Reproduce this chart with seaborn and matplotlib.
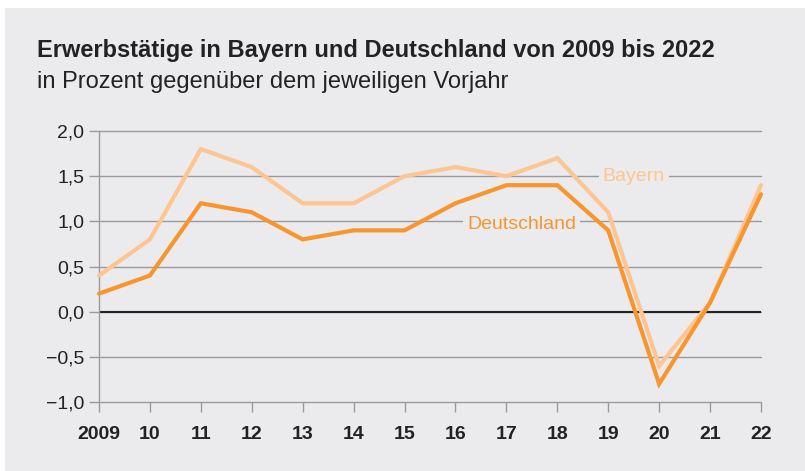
import numpy as np
import pandas as pd
import matplotlib
matplotlib.use("Agg")
import matplotlib.pyplot as plt
import seaborn as sns

# Werte
years = [2009, 2010, 2011, 2012, 2013, 2014, 2015, 2016, 2017, 2018, 2019, 2020, 2021, 2022]
bayern = [0.4, 0.8, 1.8, 1.6, 1.2, 1.2, 1.5, 1.6, 1.5, 1.7, 1.1, -0.6, 0.1, 1.4]
deutschland = [0.2, 0.4, 1.2, 1.1, 0.8, 0.9, 0.9, 1.2, 1.4, 1.4, 0.9, -0.8, 0.1, 1.3]
year_labels = ["2009", "10", "11", "12", "13", "14", "15", "16", "17", "18", "19", "20", "21", "22"]
y_ticks = [-1.0, -0.5, 0.0, 0.5, 1.0, 1.5, 2.0]
y_labels = ["\u22121,0", "\u22120,5", "0,0", "0,5", "1,0", "1,5", "2,0"]

bg = "#ebebed"
c_de = "#f7962e"
c_by = "#fdc591"

sns.set_theme(style="white")
plt.rcParams["font.family"] = ["Liberation Sans", "DejaVu Sans"]

df = pd.DataFrame({
    "Jahr": years * 2,
    "Wert": bayern + deutschland,
    "Region": ["Bayern"] * len(years) + ["Deutschland"] * len(years),
})

fig = plt.figure(figsize=(8.05, 4.71), dpi=100, facecolor="white")
# grauer Hintergrund mit weissem Rand oben/links
bg_rect = plt.Rectangle((5 / 805, 0), 1, 1 - 8 / 471, transform=fig.transFigure,
                        facecolor=bg, edgecolor="none", zorder=-10)
fig.add_artist(bg_rect)
ax = fig.add_axes([99 / 805, 1 - 402 / 471, 662 / 805, 271 / 471])
ax.set_zorder(1)
ax.set_facecolor(bg)

# Gitterlinien
for yv in y_ticks:
    ax.axhline(yv, color="#9a9a9c", lw=1.0, zorder=1, clip_on=False)
ax.axhline(0, color="#222222", lw=1.5, zorder=2)

sns.lineplot(data=df, x="Jahr", y="Wert", hue="Region",
             palette={"Bayern": c_by, "Deutschland": c_de},
             linewidth=3.0, legend=False, ax=ax, zorder=3)
for line in ax.get_lines()[-2:]:
    line.set_solid_joinstyle("miter")
    line.set_clip_on(False)

ax.set_xlim(2009, 2022)
ax.set_ylim(-1.0, 2.0)
ax.set_xticks(years)
ax.set_xticklabels(year_labels, fontsize=14, fontweight="bold", color="#222222")
ax.set_yticks(y_ticks)
ax.set_yticklabels(y_labels, fontsize=14, color="#222222")
ax.set_xlabel("")
ax.set_ylabel("")

for s in ["top", "right", "bottom"]:
    ax.spines[s].set_visible(False)
ax.spines["left"].set_color("#9a9a9c")
ax.spines["left"].set_linewidth(1.0)

ax.tick_params(axis="y", length=7.5, width=1.0, color="#9a9a9c", pad=3, left=True)
ax.tick_params(axis="x", length=7.5, width=1.0, color="#9a9a9c", pad=10, bottom=True)

# Beschriftungen der Linien
ax.text(2019.5, 1.5, "Bayern", color=c_by, fontsize=14, ha="center", va="center", zorder=4,
        bbox=dict(facecolor=bg, edgecolor="none", pad=3))
ax.text(2017.3, 0.96, "Deutschland", color=c_de, fontsize=14, ha="center", va="center", zorder=4,
        bbox=dict(facecolor=bg, edgecolor="none", pad=3))

fig.text(37 / 805, 1 - 57 / 471, "Erwerbstätige in Bayern und Deutschland von 2009 bis 2022",
         fontsize=17, fontweight="bold", color="#222222")
fig.text(37 / 805, 1 - 88 / 471, "in Prozent gegenüber dem jeweiligen Vorjahr",
         fontsize=17, color="#222222")

fig.savefig("out.png", dpi=100, facecolor="white")
